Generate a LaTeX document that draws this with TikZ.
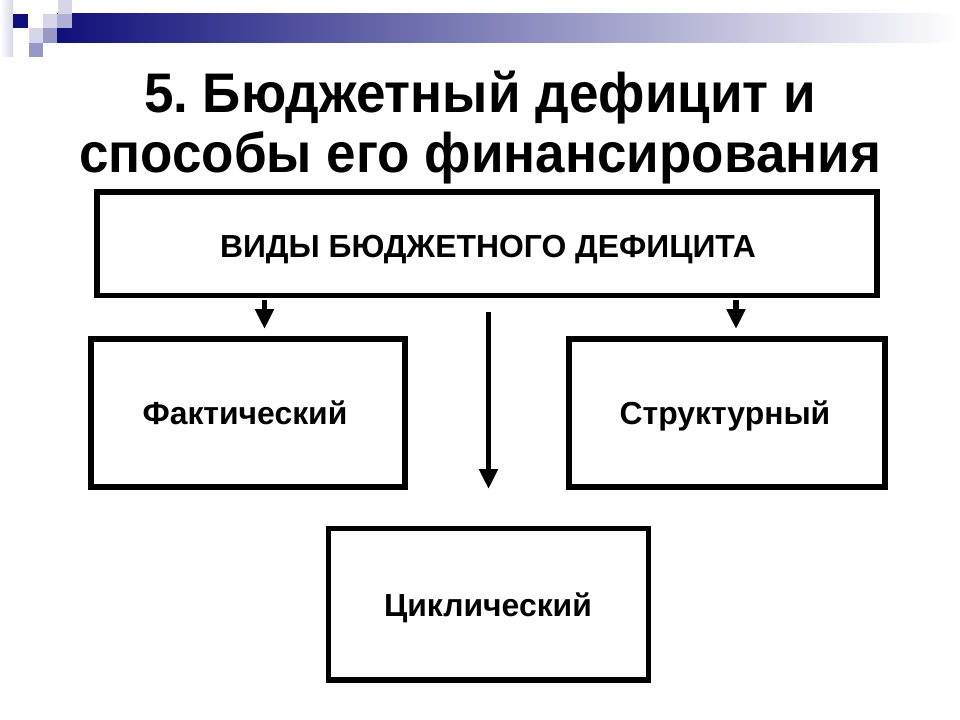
\documentclass[tikz,border=0pt]{standalone}
\usepackage{fontspec}
\setmainfont{Liberation Sans}
\newfontfamily\titlefont[FakeStretch=0.95]{Liberation Sans}
\usetikzlibrary{arrows.meta}
\frenchspacing
\definecolor{navy}{RGB}{16,16,122}
\definecolor{sqlight}{RGB}{214,214,232}
\definecolor{sqmid}{RGB}{176,176,214}
\definecolor{sqdark}{RGB}{152,152,200}
\tikzset{
  box/.style={draw=black, line width=5.5bp},
  boxtext/.style={font=\bfseries\fontsize{32}{36}\selectfont, anchor=base},
  titletext/.style={font=\titlefont\bfseries\fontsize{56}{64}\selectfont, anchor=base},
  arr/.style={line width=5.5bp, -{Triangle[length=20bp,width=18bp]}},
}
\begin{document}
\begin{tikzpicture}[x=1bp,y=-1bp]
\useasboundingbox (0,0) rectangle (960,720);
% header decoration
\shade[left color=white, right color=sqlight] (0,0) rectangle (13,57);
\shade[left color=navy, right color=white] (57,14) rectangle (958,43);
\fill[navy] (13,14) rectangle (28,28);
\fill[sqlight] (58,0) rectangle (72,14);
\fill[sqlight] (43,14) rectangle (57,28);
\fill[sqmid] (57,14) rectangle (72,28);
\fill[sqlight] (29,28) rectangle (43,43);
\fill[sqdark] (43,28) rectangle (57,43);
\fill[sqdark] (29,43) rectangle (43,57);
% title
\node[titletext] (t1) at (480,113) {5.\ Бюджетный дефицит и};
\node[titletext] (t2) at (480,173) {способы его финансирования};
% boxes
\draw[box] (97,192) rectangle (877,295.5);
\draw[box] (91,339) rectangle (405,487);
\draw[box] (569,339) rectangle (885,487);
\draw[box] (328.5,528.5) rectangle (648.5,680);
\node[boxtext] (vid) at (488,257) {ВИДЫ БЮДЖЕТНОГО ДЕФИЦИТА};
\node[boxtext] (fak) at (245,424) {Фактический};
\node[boxtext] (str) at (725,424) {Структурный};
\node[boxtext] (cyc) at (488,616) {Циклический};
% arrows
\coordinate (a1s) at (264.5,300);
\coordinate (a1e) at (264.5,329);
\coordinate (a2s) at (736,300);
\coordinate (a2e) at (736,329);
\coordinate (a3s) at (488.5,312);
\coordinate (a3e) at (488.5,489);
\draw[arr] (a1s) -- (a1e);
\draw[arr] (a2s) -- (a2e);
\draw[arr] (a3s) -- (a3e);
\end{tikzpicture}
\end{document}
